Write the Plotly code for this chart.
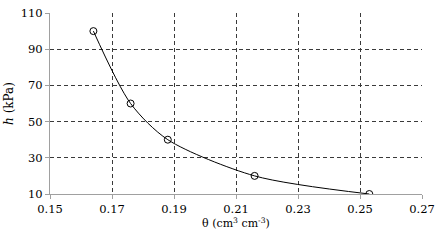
import plotly.graph_objects as go

theta = [0.164, 0.176, 0.188, 0.216, 0.253]
h = [100, 60, 40, 20, 10]
x_ticks = [0.15, 0.17, 0.19, 0.21, 0.23, 0.25, 0.27]
y_ticks = [10, 30, 50, 70, 90, 110]

font = "DejaVu Serif"

fig = go.Figure()
fig.add_trace(go.Scatter(
    x=theta, y=h, mode="lines",
    line=dict(color="black", width=1, shape="spline", smoothing=0.8),
    hoverinfo="skip", showlegend=False))
fig.add_trace(go.Scatter(
    x=theta, y=h, mode="markers",
    marker=dict(symbol="circle-open", size=7, color="black", line=dict(width=1)),
    showlegend=False))

grid = dict(showgrid=True, gridcolor="#3a3a3a", griddash="4px,3px", gridwidth=1,
            showline=True, linecolor="#a0a0a0", linewidth=1,
            ticks="outside", ticklen=4, tickcolor="#a0a0a0",
            zeroline=False, automargin=False)

fig.update_layout(
    width=444, height=241,
    margin=dict(l=50, r=22, t=13, b=47, autoexpand=False),
    paper_bgcolor="white", plot_bgcolor="white",
    font=dict(family=font, size=11.5, color="black"),
    xaxis=dict(
        range=[0.15, 0.27], tickvals=x_ticks,
        ticktext=[f"{v:.2f}" for v in x_ticks],
        tickfont=dict(family=font, size=11.5),
        title=dict(text="θ (cm<sup>3</sup> cm<sup>-3</sup>)", font=dict(size=11, family=font), standoff=3),
        **grid,
    ),
    yaxis=dict(
        range=[10, 110], tickvals=y_ticks,
        tickfont=dict(family=font, size=11.5),
        title=dict(text="<i>h</i> (kPa)", font=dict(size=12, family=font), standoff=4),
        **grid,
    ),
)

fig.write_html("out.html", config={"displayModeBar": False},
               post_script="document.body.style.margin='0';")
